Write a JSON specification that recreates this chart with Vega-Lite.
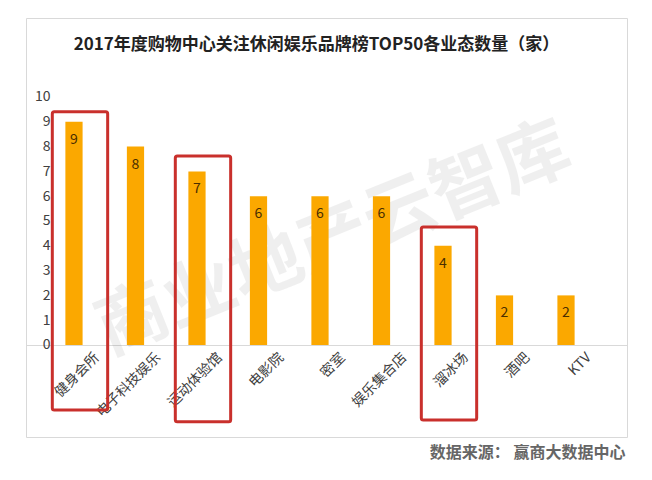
{
  "$schema": "https://vega.github.io/schema/vega-lite/v6.json",
  "width": 601,
  "height": 419,
  "autosize": {"type": "none"},
  "padding": {"left": 26, "top": 18, "right": 25, "bottom": 43},
  "background": "#ffffff",
  "config": {
    "font": "Noto Sans CJK SC",
    "view": {"stroke": "#d9d9d9", "strokeWidth": 1}
  },
  "title": {
    "text": "2017年度购物中心关注休闲娱乐品牌榜TOP50各业态数量（家）",
    "fontSize": 17,
    "fontWeight": "bold",
    "color": "#222222",
    "anchor": "middle",
    "offset": -36,
    "dx": -10
  },
  "datasets": {
    "bars": [
      {"cat": "健身会所", "count": 9},
      {"cat": "电子科技娱乐", "count": 8},
      {"cat": "运动体验馆", "count": 7},
      {"cat": "电影院", "count": 6},
      {"cat": "密室", "count": 6},
      {"cat": "娱乐集合店", "count": 6},
      {"cat": "溜冰场", "count": 4},
      {"cat": "酒吧", "count": 2},
      {"cat": "KTV", "count": 2}
    ],
    "boxes": [
      {"cat": "健身会所", "top": 9.4, "bottom": -2.62},
      {"cat": "运动体验馆", "top": 7.62, "bottom": -3.1},
      {"cat": "溜冰场", "top": 4.76, "bottom": -3.02}
    ],
    "mark": [
      {"cat": "密室", "v": 4.0, "label": "商业地产云智库"}
    ]
  },
  "encoding": {
    "x": {
      "field": "cat",
      "type": "nominal",
      "scale": {
        "domain": ["健身会所", "电子科技娱乐", "运动体验馆", "电影院", "密室", "娱乐集合店", "溜冰场", "酒吧", "KTV"],
        "paddingInner": 0,
        "paddingOuter": 0.386,
        "align": 0.363
      },
      "axis": {
        "orient": "bottom",
        "offset": -92,
        "labelAngle": -45,
        "labelAlign": "right",
        "labelBaseline": "middle",
        "labelPadding": 10,
        "labelOffset": 23,
        "labelFontSize": 14,
        "labelColor": "#404040",
        "ticks": false,
        "domainColor": "#d9d9d9",
        "domainWidth": 1,
        "grid": false,
        "title": "数据来源：  赢商大数据中心",
        "titleX": 599,
        "titleY": 107,
        "titleAlign": "right",
        "titleBaseline": "middle",
        "titleFontSize": 16,
        "titleFontWeight": "bold",
        "titleColor": "#666666"
      }
    }
  },
  "layer": [
    {
      "data": {"name": "mark"},
      "mark": {"type": "text", "angle": -22, "fontSize": 72, "fontWeight": "bold", "color": "#000000", "opacity": 0.06, "dx": 15},
      "encoding": {
        "y": {"field": "v", "type": "quantitative"},
        "text": {"field": "label"}
      }
    },
    {
      "data": {"name": "bars"},
      "mark": {"type": "bar", "color": "#FBA800", "width": {"band": 0.28}},
      "encoding": {
        "y": {
          "field": "count",
          "type": "quantitative",
          "scale": {"domain": [-3.71, 13.185], "nice": false, "zero": false},
          "axis": {
            "values": [0, 1, 2, 3, 4, 5, 6, 7, 8, 9, 10],
            "offset": -27,
            "labelPadding": 3,
            "labelFontSize": 14,
            "labelColor": "#404040",
            "ticks": false,
            "domain": false,
            "grid": false,
            "title": null
          }
        }
      }
    },
    {
      "data": {"name": "bars"},
      "mark": {"type": "text", "baseline": "middle", "dy": 18, "fontSize": 14, "color": "#4a2e00"},
      "encoding": {
        "y": {"field": "count", "type": "quantitative"},
        "text": {"field": "count", "type": "quantitative"}
      }
    },
    {
      "data": {"name": "boxes"},
      "mark": {"type": "bar", "fill": null, "fillOpacity": 0, "stroke": "#c9302c", "strokeWidth": 3, "cornerRadius": 2, "width": {"band": 0.9}, "xOffset": 6},
      "encoding": {
        "y": {"field": "top", "type": "quantitative"},
        "y2": {"field": "bottom"}
      }
    }
  ]
}
